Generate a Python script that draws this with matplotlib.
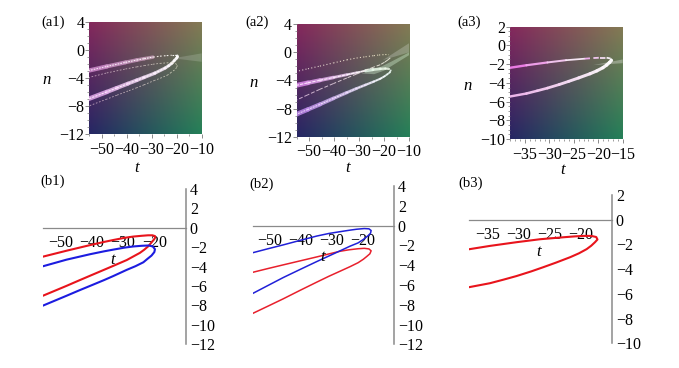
import matplotlib
matplotlib.use("Agg")
import numpy as np
import matplotlib.pyplot as plt
from matplotlib.collections import LineCollection
from matplotlib.colors import to_rgb
from matplotlib.ticker import MultipleLocator

W, H = 679, 368
plt.rcParams['font.family'] = ['Liberation Serif', 'DejaVu Serif']
plt.rcParams['axes.unicode_minus'] = True

# --- data ---
b1_red_t = [-55.4,-48,-40.5,-36,-33,-29.5,-26.7,-24,-22,-20.6,-19.8,-19.7,-20.1,-20.9,-21.9,-23.2,-24.6,-28.8,-33.1,-36,-39.5,-44,-48,-55.4]
b1_red_n = [-2.96,-2.36,-1.78,-1.45,-1.25,-1.03,-0.9,-0.82,-0.77,-0.77,-0.85,-0.98,-1.2,-1.5,-1.89,-2.25,-2.58,-3.32,-3.92,-4.32,-4.8,-5.42,-5.98,-6.98]
b1_blue_t = [-55.4,-48,-40.5,-36,-33,-29.5,-26.7,-24,-21.8,-20.5,-19.8,-20,-20.9,-22.2,-23.5,-26,-28.8,-33.1,-36,-39.5,-44,-48,-55.4]
b1_blue_n = [-3.95,-3.28,-2.72,-2.42,-2.24,-2.04,-1.92,-1.85,-1.82,-1.92,-2.2,-2.5,-2.86,-3.2,-3.55,-3.95,-4.33,-4.97,-5.38,-5.85,-6.45,-7.0,-8.0]

b2_blue_t = [-55.4,-50.5,-45.7,-40.3,-34.9,-31,-27.4,-24.1,-22,-19.5,-18,-17.3,-17.5,-18.4,-19.8,-21.5,-24.1,-27.4,-31,-34.9,-40.3,-45.7,-50.5,-55.4]
b2_blue_n = [-2.73,-2.33,-1.95,-1.5,-1.06,-0.8,-0.62,-0.46,-0.37,-0.3,-0.33,-0.5,-0.78,-1.05,-1.4,-1.75,-2.08,-2.56,-3.08,-3.64,-4.44,-5.25,-6.03,-6.83]
b2_red_t = [-55.4,-50.5,-45.7,-40.3,-34.9,-31,-27.4,-24.5,-21.5,-19.5,-18,-17.3,-17.7,-18.7,-19.8,-21.5,-24.1,-27.4,-31,-34.9,-40.3,-45.7,-50.5,-55.4]
b2_red_n = [-4.71,-4.33,-3.97,-3.57,-3.17,-2.87,-2.6,-2.45,-2.34,-2.3,-2.36,-2.55,-2.85,-3.12,-3.4,-3.75,-4.15,-4.62,-5.13,-5.72,-6.55,-7.4,-8.12,-8.85]

b3_red_t = [-38.07,-34.7,-30.4,-26.6,-22.8,-21,-19.6,-18.3,-17.5,-17.3,-17.7,-18.3,-19.05,-20.3,-21.7,-24,-26.05,-28,-30.4,-32.5,-34.7,-38.07]
b3_red_n = [-2.39,-2.12,-1.82,-1.58,-1.42,-1.35,-1.31,-1.31,-1.4,-1.6,-1.82,-2.1,-2.38,-2.72,-3.03,-3.47,-3.84,-4.18,-4.56,-4.85,-5.14,-5.46]

glow1_t = [-21.5,-10,-10]
glow1_n = [-1.2,-0.5,-1.7]
glow2a_t = [-20.5,-10,-10]
glow2a_n = [-1.1,0.0,1.3]
glow2b_t = [-29,-21,-17,-10,-10,-20,-24]
glow2b_n = [-3.0,-2.0,-1.3,0.0,-0.4,-2.6,-3.1]
glow3_t = [-21,-15,-15]
glow3_n = [-2.1,-1.5,-1.9]

corner_colors = np.array([[[133,40,92],[132,122,84]],
                          [[38,38,100],[36,128,88]]]) / 255.0

xticks_a = [-50,-40,-30,-20,-10]
yticks_a = [-12,-8,-4,0,4]
xticks_a3 = [-35,-30,-25,-20,-15]
yticks_a3 = [-10,-8,-6,-4,-2,0,2]
xticks_b = [-50,-40,-30,-20]
yticks_b = [-12,-10,-8,-6,-4,-2,0,2,4]
xticks_b3 = [-35,-30,-25,-20]
yticks_b3 = [-10,-8,-6,-4,-2,0,2]

FS = 11.5
GRAY = '#8a8a8a'

fig = plt.figure(figsize=(W/100, H/100), dpi=100, facecolor='white')

def box(x0, y0, x1, y1):
    return fig.add_axes([x0/W, 1-y1/H, (x1-x0)/W, (y1-y0)/H])

def put(x, y, s, **kw):
    fig.text(x/W, 1-y/H, s, ha='center', va='center', **kw)

def lab(v):
    return f"\u2212{abs(v)}" if v < 0 else f"{v}"

def band(ax, t, n, w_left, w_tip=None, left='#f0a0ee', tip='#ffffff', alpha=0.95, ls='solid'):
    """Draw a curve part whose colour and width change from its left end to its tip."""
    w_tip = w_left if w_tip is None else w_tip
    t = np.asarray(t, float); n = np.asarray(n, float)
    pts = np.column_stack([t, n])
    segs = np.stack([pts[:-1], pts[1:]], axis=1)
    mid = (t[:-1] + t[1:]) / 2
    f = np.clip((mid - t.min()) / max(t.max() - t.min(), 1e-6), 0, 1)
    cols = (1 - f[:, None]) * np.array(to_rgb(left)) + f[:, None] * np.array(to_rgb(tip))
    widths = w_left + (w_tip - w_left) * f
    ax.add_collection(LineCollection(segs, colors=cols, linewidths=widths, alpha=alpha,
                                     linestyles=ls, capstyle='round' if ls == 'solid' else 'butt',
                                     zorder=3))

def heat(bbox, xlim, ylim, xt, yt, xm, ym):
    ax = box(*bbox)
    u = np.linspace(0, 1, 128)[:, None, None]
    v = np.linspace(0, 1, 128)[None, :, None]
    c = corner_colors
    grad = (1-u)*(1-v)*c[0,0] + (1-u)*v*c[0,1] + u*(1-v)*c[1,0] + u*v*c[1,1]
    ax.imshow(grad, extent=[*xlim, *ylim], origin='upper', aspect='auto',
              interpolation='bilinear', zorder=0)
    ax.set_xlim(*xlim); ax.set_ylim(*ylim)
    ax.set_xticks(xt); ax.set_xticklabels([lab(v_) for v_ in xt], fontsize=FS)
    ax.set_yticks(yt); ax.set_yticklabels([lab(v_) for v_ in yt], fontsize=FS)
    ax.xaxis.set_minor_locator(MultipleLocator(xm))
    ax.yaxis.set_minor_locator(MultipleLocator(ym))
    ax.tick_params(axis='x', which='major', length=3, width=0.6, color='#777777', pad=2.5)
    ax.tick_params(axis='y', which='major', length=3, width=0.6, color='#777777', pad=0.5)
    ax.tick_params(which='minor', length=1.6, width=0.5, color='#777777')
    for s in ax.spines.values():
        s.set_visible(False)
    return ax

# (a1)
a1 = heat((89.3,21.7,201.7,134.3), (-55,-10), (-12,4), xticks_a, yticks_a, 5, 1)
a1.fill(glow1_t, glow1_n, color='#ffffff', alpha=0.16, lw=0, zorder=2)
band(a1, b1_red_t[:6], b1_red_n[:6], 3.2, 2.4, left='#d890d8', tip='#c8a0b8', alpha=0.8)
band(a1, b1_red_t[:6], b1_red_n[:6], 0.8, left='#f8e0f4', ls=(0,(1.5,1)))
band(a1, b1_red_t[5:11], b1_red_n[5:11], 0.8, left='#f0e8e0', ls=(0,(1.5,2)))
band(a1, b1_red_t[10:], b1_red_n[10:], 3.4, 2.0, left='#e0a0e8', alpha=0.85)
band(a1, b1_red_t[13:], b1_red_n[13:], 0.8, left='#ffe8ff', ls=(0,(2,1)))
band(a1, b1_blue_t, b1_blue_n, 0.6, left='#d8b8d0', tip='#e0e0c8', alpha=0.8, ls=(0,(2,2)))

# (a2)
a2 = heat((296.7,24.3,409,136.7), (-55,-10), (-12,4), xticks_a, yticks_a, 5, 1)
a2.fill(glow2a_t, glow2a_n, color='#ffffff', alpha=0.22, lw=0, zorder=2)
a2.fill(glow2b_t, glow2b_n, color='#e0ffe0', alpha=0.35, lw=0, zorder=2)
band(a2, b2_red_t[:7], b2_red_n[:7], 3.6, 1.2, left='#d880e8', tip='#f0e8f0', alpha=0.85)
band(a2, b2_red_t[:7], b2_red_n[:7], 0.8, left='#ffe0ff', ls=(0,(3,1)))
band(a2, b2_red_t[6:11], b2_red_n[6:11], 2.4, 1.5, left='#e8fff0', tip='#f0f8e8', alpha=0.8)
band(a2, b2_red_t[11:], b2_red_n[11:], 3.4, 1.2, left='#b880e8', tip='#f0fff8', alpha=0.85)
band(a2, b2_red_t[14:], b2_red_n[14:], 0.7, left='#f0d8ff', ls=(0,(2,1)))
band(a2, b2_blue_t[:11], b2_blue_n[:11], 0.8, left='#e8d8d8', tip='#f0e8c8', alpha=0.9, ls=(0,(1,2)))
band(a2, b2_blue_t[12:], b2_blue_n[12:], 0.7, left='#e0c0e0', tip='#f8f8e8', alpha=0.85, ls=(0,(4,2)))

# (a3)
a3 = heat((510.3,26.7,622.7,139), (-38,-15), (-10,2), xticks_a3, yticks_a3, 1, 0.5)
a3.fill(glow3_t, glow3_n, color='#ffffff', alpha=0.3, lw=0, zorder=2)
band(a3, b3_red_t[:5], b3_red_n[:5], 1.8, 1.2, left='#f070e8')
band(a3, b3_red_t[4:10], b3_red_n[4:10], 1.3, ls=(0,(3,2)))
band(a3, b3_red_t[9:], b3_red_n[9:], 1.7, 2.4, left='#f4b8f0')

def curve_panel(bbox, xlim, ylim, xt, yt):
    ax = box(*bbox)
    ax.patch.set_alpha(0)
    ax.set_xlim(*xlim); ax.set_ylim(*ylim)
    for s in ('top', 'left'):
        ax.spines[s].set_visible(False)
    ax.spines['bottom'].set_position(('data', 0))
    ax.spines['bottom'].set_color(GRAY); ax.spines['bottom'].set_linewidth(0.9)
    ax.spines['right'].set_color(GRAY); ax.spines['right'].set_linewidth(1.1)
    ax.yaxis.tick_right()
    ax.set_xticks(xt); ax.set_xticklabels([lab(v) for v in xt], fontsize=FS)
    ax.set_yticks(yt); ax.set_yticklabels([lab(v) for v in yt], fontsize=FS)
    ax.tick_params(axis='x', length=0, pad=5)
    ax.tick_params(axis='y', length=0, pad=3)
    return ax

b1 = curve_panel((43.3,189,185.7,344.3), (-55.4,-10), (-12,4), xticks_b, yticks_b)
b1.plot(b1_red_t, b1_red_n, color='#e8141c', lw=1.5, solid_joinstyle='round')
b1.plot(b1_blue_t, b1_blue_n, color='#1c1ce0', lw=1.5, solid_joinstyle='round')

b2 = curve_panel((253.3,186,393.7,344.3), (-55.4,-10), (-12,4), xticks_b, yticks_b)
b2.plot(b2_red_t, b2_red_n, color='#e8202c', lw=1.1, solid_joinstyle='round')
b2.plot(b2_blue_t, b2_blue_n, color='#2020d8', lw=1.1, solid_joinstyle='round')

b3 = curve_panel((469,195,611.7,343.3), (-38.07,-15), (-10,2), xticks_b3, yticks_b3)
b3.plot(b3_red_t, b3_red_n, color='#e8141c', lw=1.5, solid_joinstyle='round')

# panel letters and axis names
for x, y, s in [(52.7,22.7,'(a1)'),(257,22,'(a2)'),(469,22,'(a3)'),
                (52.7,181,'(b1)'),(261.7,184,'(b2)'),(471,183,'(b3)')]:
    put(x, y, s, fontsize=10.5)
for x, y in [(137,168.5),(347.7,168.5),(563,170),(113,260),(322.7,257),(539,252)]:
    put(x, y, 't', fontsize=12, style='italic')
for x, y in [(47,80),(254,83),(468,86)]:
    put(x, y, 'n', fontsize=12, style='italic')

fig.savefig('out.png', dpi=100, facecolor='white')
